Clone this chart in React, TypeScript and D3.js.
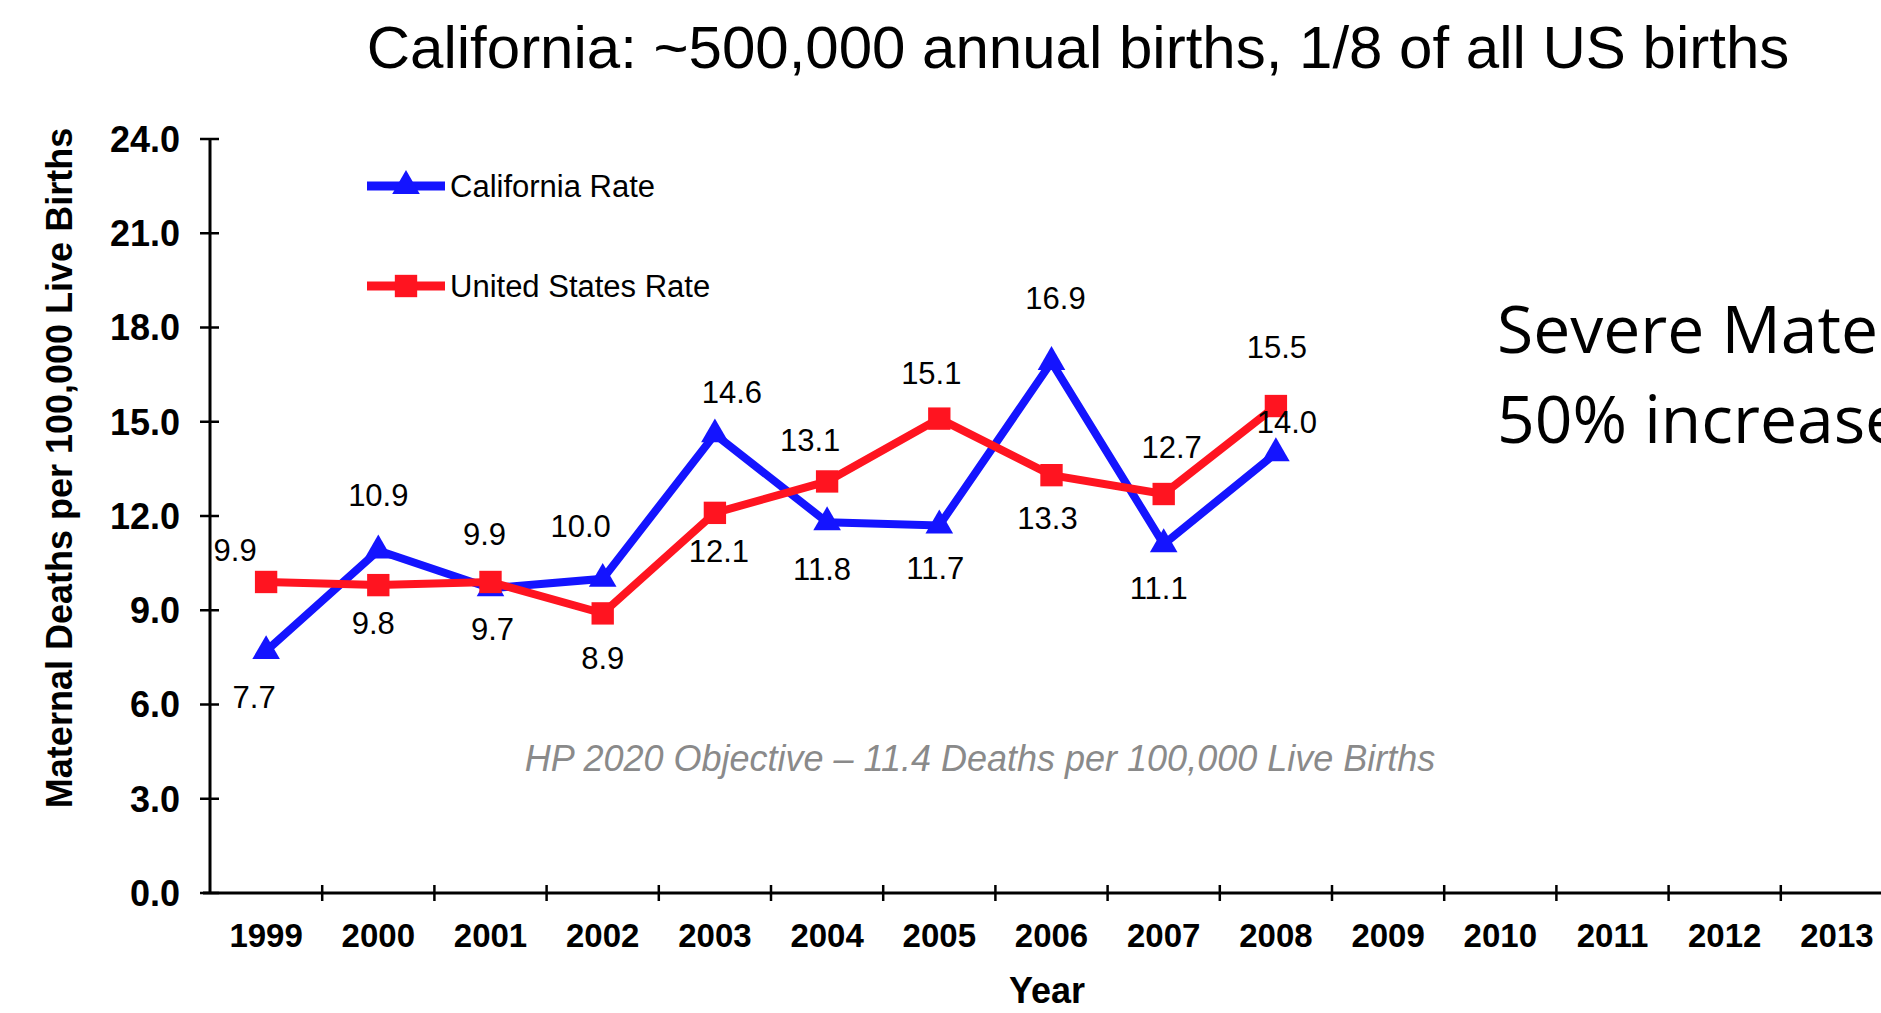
import { useEffect, useRef } from "react";
import * as d3 from "d3";

const years = ["1999", "2000", "2001", "2002", "2003", "2004", "2005", "2006", "2007", "2008", "2009", "2010", "2011", "2012", "2013"];
const dataYears = ["1999", "2000", "2001", "2002", "2003", "2004", "2005", "2006", "2007", "2008"];
const caRate = [7.7, 10.9, 9.7, 10.0, 14.6, 11.8, 11.7, 16.9, 11.1, 14.0];
const usRate = [9.9, 9.8, 9.9, 8.9, 12.1, 13.1, 15.1, 13.3, 12.7, 15.5];
const yTicks = [0, 3, 6, 9, 12, 15, 18, 21, 24];

// label nudges (dx, dy) from each point, as placed on the original slide
const caLabelOffset = [[-12, 46], [0, -56], [2, 41], [-22, -53], [17, -42], [-5, 47], [-4, 42], [4, -64], [-5, 44], [11, -31]];
const usLabelOffset = [[-31, -32], [-5, 38], [-6, -48], [0, 44], [4, 38], [-17, -42], [-8, -46], [-4, 43], [8, -47], [1, -59]];

const W = 1881;
const H = 1013;
const BLUE = "#1414ff";
const RED = "#ff1420";
const SANS = "'Liberation Sans', Arial, sans-serif";

export default function App() {
  const svgRef = useRef<SVGSVGElement>(null);

  useEffect(() => {
    if (!svgRef.current) return;
    const svg = d3.select(svgRef.current);
    svg.selectAll("*").remove();

    const x = d3.scaleBand<string>().domain(years).range([210, 210 + 112.2 * years.length]).padding(0);
    const y = d3.scaleLinear().domain([0, 24]).range([893, 139]);
    const cx = (yr: string) => (x(yr) as number) + x.bandwidth() / 2;

    // title
    svg.append("text")
      .attr("x", 1078).attr("y", 68)
      .attr("text-anchor", "middle")
      .attr("font-family", SANS).attr("font-size", 60)
      .attr("fill", "#000")
      .text("California: ~500,000 annual births, 1/8 of all US births");

    // y axis
    const axis = svg.append("g").attr("stroke", "#000");
    axis.append("line").attr("x1", 210).attr("x2", 210).attr("y1", y(24)).attr("y2", y(0)).attr("stroke-width", 3);
    yTicks.forEach((t) => {
      axis.append("line").attr("x1", 200).attr("x2", 219).attr("y1", y(t)).attr("y2", y(t)).attr("stroke-width", 2.5);
      svg.append("text")
        .attr("x", 180).attr("y", y(t))
        .attr("dy", "0.36em")
        .attr("text-anchor", "end")
        .attr("font-family", SANS).attr("font-weight", "bold").attr("font-size", 36)
        .text(t.toFixed(1));
    });

    // x axis
    axis.append("line").attr("x1", 203).attr("x2", W).attr("y1", y(0)).attr("y2", y(0)).attr("stroke-width", 3);
    years.forEach((yr, i) => {
      if (i > 0) {
        axis.append("line")
          .attr("x1", x(yr) as number).attr("x2", x(yr) as number)
          .attr("y1", y(0) - 8).attr("y2", y(0) + 8)
          .attr("stroke-width", 2.5);
      }
      svg.append("text")
        .attr("x", cx(yr)).attr("y", 947)
        .attr("text-anchor", "middle")
        .attr("font-family", SANS).attr("font-weight", "bold").attr("font-size", 33)
        .text(yr);
    });

    // axis titles
    svg.append("text")
      .attr("x", 1047).attr("y", 1003)
      .attr("text-anchor", "middle")
      .attr("font-family", SANS).attr("font-weight", "bold").attr("font-size", 36)
      .text("Year");

    svg.append("text")
      .attr("transform", "translate(72,468) rotate(-90)")
      .attr("text-anchor", "middle")
      .attr("font-family", SANS).attr("font-weight", "bold").attr("font-size", 36)
      .text("Maternal Deaths per 100,000 Live Births");

    // objective note
    svg.append("text")
      .attr("x", 980).attr("y", 771)
      .attr("text-anchor", "middle")
      .attr("font-family", SANS).attr("font-style", "italic").attr("font-size", 36)
      .attr("fill", "#8a8a8a")
      .text("HP 2020 Objective \u2013 11.4 Deaths per 100,000 Live Births");

    const line = d3.line<number>()
      .x((_, i) => cx(dataYears[i]))
      .y((d) => y(d));

    const tri = d3.symbol().type(d3.symbolTriangle).size(330);
    const sq = d3.symbol().type(d3.symbolSquare).size(500);

    const drawSeries = (vals: number[], color: string, shape: any) => {
      const g = svg.append("g");
      g.append("path")
        .attr("d", line(vals))
        .attr("fill", "none")
        .attr("stroke", color)
        .attr("stroke-width", 8)
        .attr("stroke-linejoin", "miter");
      vals.forEach((v, i) => {
        g.append("path")
          .attr("d", shape())
          .attr("transform", `translate(${cx(dataYears[i])},${y(v)})`)
          .attr("fill", color);
      });
    };

    drawSeries(caRate, BLUE, tri);
    drawSeries(usRate, RED, sq);

    // data labels on top
    const labels = svg.append("g")
      .attr("font-family", SANS).attr("font-size", 31)
      .attr("text-anchor", "middle").attr("fill", "#000");
    caRate.forEach((v, i) => {
      labels.append("text")
        .attr("x", cx(dataYears[i]) + caLabelOffset[i][0])
        .attr("y", y(v) + caLabelOffset[i][1])
        .attr("dy", "0.36em")
        .text(v.toFixed(1));
    });
    usRate.forEach((v, i) => {
      labels.append("text")
        .attr("x", cx(dataYears[i]) + usLabelOffset[i][0])
        .attr("y", y(v) + usLabelOffset[i][1])
        .attr("dy", "0.36em")
        .text(v.toFixed(1));
    });

    // legend
    const legendData = [
      { label: "California Rate", color: BLUE, shape: tri, y: 186 },
      { label: "United States Rate", color: RED, shape: sq, y: 286 },
    ];
    legendData.forEach((item) => {
      const lg = svg.append("g");
      lg.append("line")
        .attr("x1", 367).attr("x2", 445).attr("y1", item.y).attr("y2", item.y)
        .attr("stroke", item.color).attr("stroke-width", 9);
      lg.append("path")
        .attr("d", item.shape())
        .attr("transform", `translate(406,${item.y})`)
        .attr("fill", item.color);
      lg.append("text")
        .attr("x", 450).attr("y", item.y)
        .attr("dy", "0.36em")
        .attr("font-family", SANS).attr("font-size", 31)
        .text(item.label);
    });

    // side note, running off the slide edge as in the original
    const note = svg.append("g")
      .attr("font-family", "'Open Sans', 'Noto Sans', sans-serif")
      .attr("font-size", 66).attr("fill", "#000");
    note.append("text").attr("x", 1497).attr("y", 353).text("Severe Mater");
    note.append("text").attr("x", 1497).attr("y", 443).text("50% increase");
  }, []);

  return (
    <div style={{ position: "absolute", left: 0, top: 0, width: W, height: H, background: "#fff", overflow: "hidden" }}>
      <svg ref={svgRef} width={W} height={H} viewBox={`0 0 ${W} ${H}`} style={{ display: "block" }} />
    </div>
  );
}
